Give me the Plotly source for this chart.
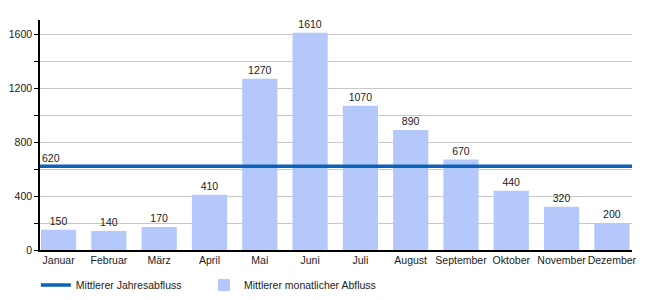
import plotly.graph_objects as go

months = ["Januar", "Februar", "März", "April", "Mai", "Juni", "Juli",
          "August", "September", "Oktober", "November", "Dezember"]
monthly = [150, 140, 170, 410, 1270, 1610, 1070, 890, 670, 440, 320, 200]
annual_mean = 620
y_ticks = [0, 200, 400, 600, 800, 1000, 1200, 1400, 1600]
y_labels = ["0", "", "400", "", "800", "", "1200", "", "1600"]

X_MIN, X_MAX = -0.37, 11.4
idx = list(range(len(months)))
FS = 10.5

fig = go.Figure()
fig.add_trace(go.Bar(
    x=idx, y=monthly, width=0.7, marker=dict(color="#b4c8fb", line=dict(width=0)),
    text=[str(v) for v in monthly], textposition="outside",
    textfont=dict(size=FS, color="#1a1a1a"), cliponaxis=False,
    name="Mittlerer monatlicher Abfluss", legend="legend2"))
fig.add_trace(go.Scatter(
    x=[X_MIN, X_MAX], y=[annual_mean, annual_mean], mode="lines",
    line=dict(color="#0b62b8", width=3.5),
    name="Mittlerer Jahresabfluss", hoverinfo="skip", legend="legend"))

fig.add_annotation(x=0, xref="paper", y=annual_mean, yref="y",
                   text=str(annual_mean), showarrow=False,
                   xanchor="left", yanchor="bottom", xshift=0, yshift=0,
                   font=dict(size=FS, color="#1a1a1a"))

leg_common = dict(orientation="h", xanchor="left", y=-0.152, yanchor="middle",
                  font=dict(size=FS), bgcolor="rgba(0,0,0,0)")
fig.update_layout(
    width=650, height=300,
    margin=dict(l=40, r=18, t=20, b=50, autoexpand=False),
    paper_bgcolor="white", plot_bgcolor="white",
    font=dict(family="Liberation Sans, Arial, sans-serif", size=FS, color="#1a1a1a"),
    showlegend=True,
    legend=dict(x=-0.007, **leg_common),
    legend2=dict(x=0.277, **leg_common),
)
fig.update_xaxes(range=[X_MIN, X_MAX], tickvals=idx, ticktext=months,
                 tickangle=0, automargin=False,
                 showgrid=False, showline=True, linecolor="black", linewidth=1.5,
                 ticks="", zeroline=False, tickfont=dict(size=FS))
fig.update_yaxes(range=[0, 1705], tickvals=y_ticks, ticktext=y_labels,
                 automargin=False,
                 showgrid=True, gridcolor="#c8c8c8", gridwidth=1,
                 showline=True, linecolor="black", linewidth=1.5,
                 ticks="outside", ticklen=4, tickcolor="black",
                 zeroline=False, tickfont=dict(size=FS))

fig.write_html("out.html")
